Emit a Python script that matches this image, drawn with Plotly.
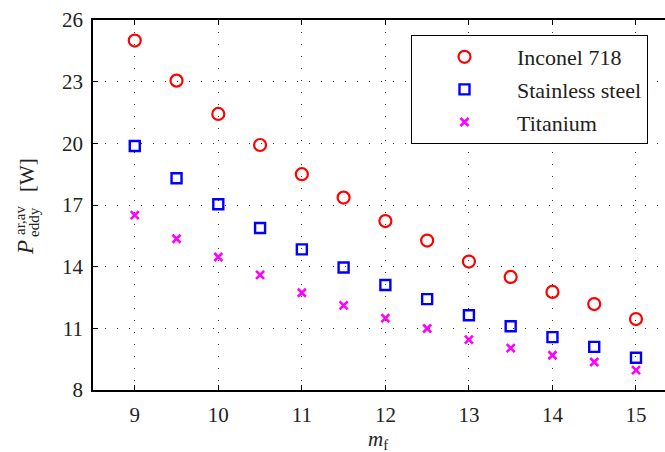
import plotly.graph_objects as go

m_f = [9, 9.5, 10, 10.5, 11, 11.5, 12, 12.5, 13, 13.5, 14, 14.5, 15]
inconel = [25.0, 23.05, 21.43, 19.92, 18.5, 17.36, 16.22, 15.27, 14.25, 13.5, 12.77, 12.18, 11.45]
stainless = [19.87, 18.3, 17.04, 15.88, 14.84, 13.96, 13.11, 12.42, 11.64, 11.1, 10.57, 10.1, 9.57]
titanium = [16.51, 15.36, 14.47, 13.6, 12.73, 12.12, 11.5, 10.99, 10.45, 10.04, 9.69, 9.36, 8.97]
series_names = ["Inconel 718", "Stainless steel", "Titanium"]
y_ticks = [8, 11, 14, 17, 20, 23, 26]
x_ticks = [9, 10, 11, 12, 13, 14, 15]

FONT = "Times New Roman, Liberation Serif, serif"
W, H = 665, 452
L, R, T, B = 93, 0, 20, 62
PW, PH = W - L - R, H - T - B

fig = go.Figure()
fig.add_trace(go.Scatter(x=m_f, y=inconel, mode="markers", name=series_names[0], legendgroup="a",
                         marker=dict(symbol="circle-open", size=12, color="#ff0000", line=dict(width=2.2, color="#ff0000"))))
fig.add_trace(go.Scatter(x=m_f, y=stainless, mode="markers", name=series_names[1], legendgroup="b",
                         marker=dict(symbol="square-open", size=10, color="#0000ff", line=dict(width=2.4, color="#0000ff"))))
fig.add_trace(go.Scatter(x=m_f, y=titanium, mode="markers", name=series_names[2], legendgroup="c",
                         marker=dict(symbol="x-thin-open", size=8, color="#ff00ff", line=dict(width=2.6, color="#ff00ff"))))

x_lo = 8.5
x_hi = 9 + (PW - 42) / 83.5

axis_common = dict(
    showline=True, linecolor="black", linewidth=1.5,
    ticks="inside", ticklen=5, tickcolor="black", tickwidth=1,
    showgrid=True, gridcolor="#333333", gridwidth=1, griddash="1px,11px",
    zeroline=False,
    tickfont=dict(family=FONT, size=21, color="#222222"),
)
fig.update_xaxes(range=[x_lo, x_hi], tickvals=x_ticks, mirror="ticks", ticklabelstandoff=5, **axis_common)
fig.update_yaxes(range=[8, 26], tickvals=y_ticks, mirror=False, ticklabelstandoff=4, **axis_common)

def px_x(px):
    return (px - L) / PW

def px_y(py):
    return 1 - (py - T) / PH

annots = [
    dict(text="<i>P</i>", x=px_x(25), y=px_y(248), size=23),
    dict(text="ar,av", x=px_x(20), y=px_y(221), size=15),
    dict(text="eddy", x=px_x(34), y=px_y(222), size=15),
    dict(text="[W]", x=px_x(27), y=px_y(175), size=21),
]
for a in annots:
    fig.add_annotation(text=a["text"], x=a["x"], y=a["y"], xref="paper", yref="paper",
                       xanchor="center", yanchor="middle", textangle=-90, showarrow=False,
                       font=dict(family=FONT, size=a["size"], color="#222222"))
fig.add_annotation(text="<i>m</i><sub>f</sub>", x=px_x(378), y=px_y(440), xref="paper", yref="paper",
                   xanchor="center", yanchor="middle", showarrow=False,
                   font=dict(family=FONT, size=21, color="#222222"))

fig.update_layout(
    width=W, height=H,
    margin=dict(l=L, r=R, t=T, b=B),
    plot_bgcolor="white", paper_bgcolor="white",
    legend=dict(x=px_x(411), y=px_y(35), xanchor="left", yanchor="top",
                bordercolor="black", borderwidth=1, bgcolor="white",
                font=dict(family=FONT, size=22, color="#222222"),
                itemwidth=95, tracegroupgap=1),
    showlegend=True,
)

fig.write_html("out.html", config={"displayModeBar": False},
               post_script="document.body.style.margin='0';")
